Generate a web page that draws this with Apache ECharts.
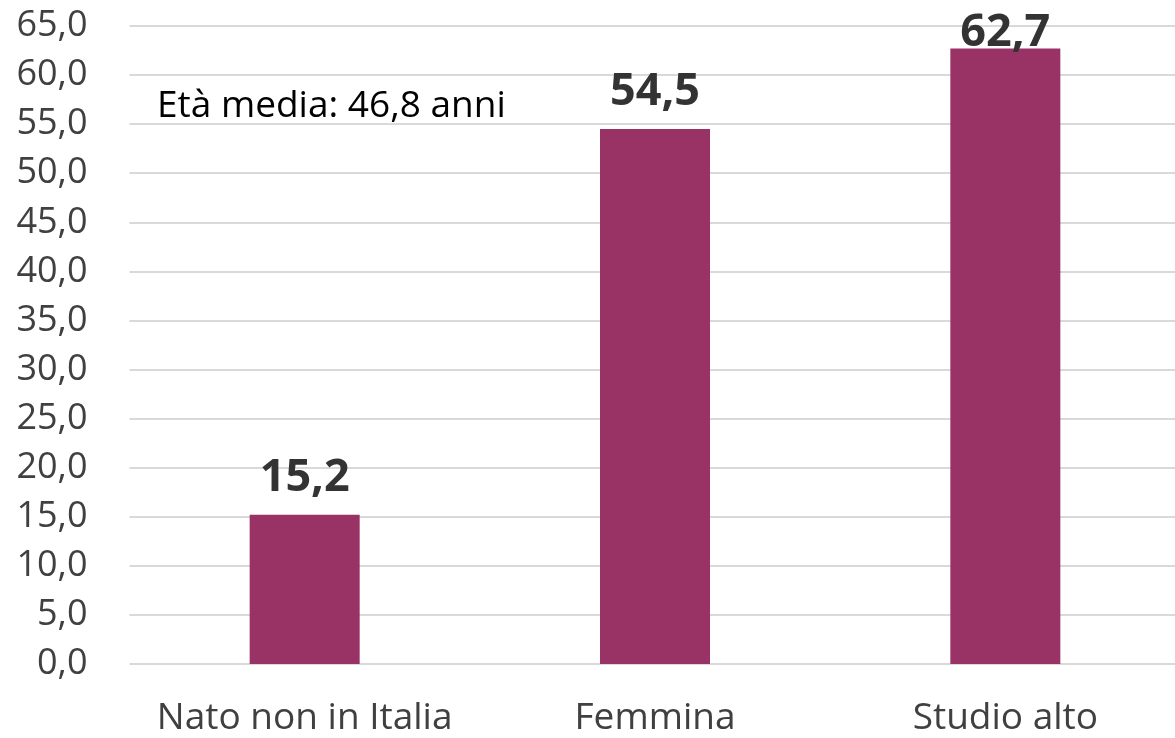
<!DOCTYPE html>
<html>
<head>
<meta charset="utf-8">
<script src="https://cdn.jsdelivr.net/npm/echarts@6/dist/echarts.min.js"></script>
<style>
  html, body { margin: 0; padding: 0; background: #fff; }
  #chart { width: 1175px; height: 738px; }
</style>
</head>
<body>
<div id="chart"></div>
<script>
// data
var categories = ['Nato non in Italia', 'Femmina', 'Studio alto'];
var values = [15.2, 54.5, 62.7];
var yTicks = { min: 0, max: 65, interval: 5 };
var note = 'Età media: 46,8 anni';

var chart = echarts.init(document.getElementById('chart'));

// italian decimal comma
function fmt(v) {
  return Number(v).toFixed(1).replace('.', ',');
}

var option = {
  animation: false,
  // plot runs slightly past the right edge, as in the original
  grid: {
    left: 129.5, width: 1051, top: 26, bottom: 74,
    containLabel: false,
    outerBoundsMode: 'none'
  },
  xAxis: {
    type: 'category',
    data: categories,
    axisLine: { show: false },
    axisTick: { show: false },
    axisLabel: {
      interval: 0,
      margin: 36,
      fontFamily: 'Open Sans',
      fontSize: 37,
      color: '#404040'
    }
  },
  yAxis: {
    type: 'value',
    min: yTicks.min,
    max: yTicks.max,
    interval: yTicks.interval,
    axisLine: { show: false },
    axisTick: { show: false },
    splitLine: { lineStyle: { color: '#d9d9d9', width: 2 } },
    axisLabel: {
      margin: 42,
      fontFamily: 'Open Sans',
      fontSize: 36,
      color: '#404040',
      formatter: fmt
    }
  },
  series: [
    {
      type: 'bar',
      barWidth: 110,
      itemStyle: { color: '#993366' },
      label: {
        show: true,
        position: 'top',
        distance: 14,
        fontFamily: 'Open Sans',
        fontWeight: 'bold',
        fontSize: 45,
        color: '#333333',
        formatter: function (p) { return fmt(p.value); }
      },
      // last label pushed down inside the plot, as in the original
      data: values.map(function (v, i) {
        if (i === values.length - 1) {
          return { value: v, label: { offset: [0, 21] } };
        }
        return v;
      })
    }
  ],
  graphic: [
    {
      type: 'text',
      left: 157,
      top: 88,
      style: {
        text: note,
        fontFamily: 'Open Sans',
        fontSize: 37,
        fill: '#000000'
      }
    }
  ]
};

chart.setOption(option);
</script>
</body>
</html>
